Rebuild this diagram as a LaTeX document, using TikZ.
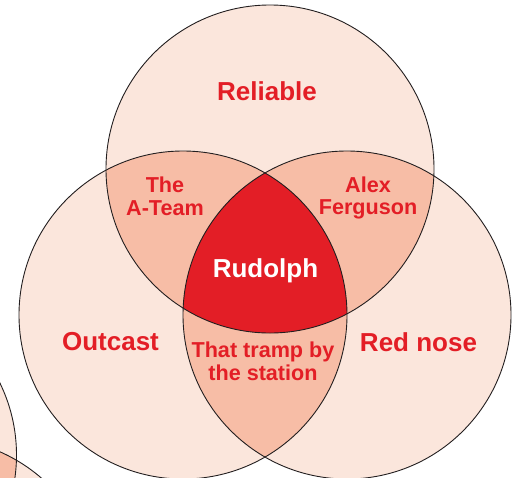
\documentclass[tikz,border=0pt]{standalone}
\usepackage{fontspec}
\setmainfont{Liberation Sans}
\definecolor{lightp}{HTML}{FBE6DC}
\definecolor{midp}{HTML}{F7BDA6}
\definecolor{vred}{HTML}{E31E26}
\definecolor{ink}{HTML}{231F20}
\begin{document}
\begin{tikzpicture}[x=1pt,y=-1pt,
  ring/.style={draw=ink,line width=0.9pt},
  big/.style={font=\fontsize{26}{27}\selectfont\bfseries,text=vred,inner sep=0pt},
  small/.style={font=\fontsize{21.6}{22.8}\selectfont\bfseries,text=vred,align=center,inner sep=0pt}]
\useasboundingbox (0,0) rectangle (519,477);
\def\rr{164pt}
\coordinate (T) at (270,169);
\coordinate (L) at (183,315);
\coordinate (R) at (347,315);
\coordinate (A) at (-147.5,455);
\coordinate (B) at (-66,602);
% fragment circles at bottom left
\fill[lightp] (A) circle[radius=\rr];
\fill[lightp] (B) circle[radius=\rr];
\begin{scope}
  \clip (A) circle[radius=\rr];
  \fill[midp] (B) circle[radius=\rr];
\end{scope}
\draw[ring] (A) circle[radius=\rr];
\draw[ring] (B) circle[radius=\rr];
% main circles
\fill[lightp] (T) circle[radius=\rr];
\fill[lightp] (L) circle[radius=\rr];
\fill[lightp] (R) circle[radius=\rr];
\begin{scope}
  \clip (T) circle[radius=\rr];
  \fill[midp] (L) circle[radius=\rr];
  \fill[midp] (R) circle[radius=\rr];
\end{scope}
\begin{scope}
  \clip (L) circle[radius=\rr];
  \fill[midp] (R) circle[radius=\rr];
\end{scope}
\begin{scope}
  \clip (T) circle[radius=\rr];
  \clip (L) circle[radius=\rr];
  \fill[vred] (R) circle[radius=\rr];
\end{scope}
\draw[ring] (T) circle[radius=\rr];
\draw[ring] (L) circle[radius=\rr];
\draw[ring] (R) circle[radius=\rr];
% labels
\node[big,anchor=base] (reliable) at (267,100) {Reliable};
\node[big,anchor=base] (outcast) at (110.5,350) {Outcast};
\node[big,anchor=base] (rednose) at (418.5,351) {Red nose};
\node[big,anchor=base,text=white] (rudolph) at (265.5,277) {Rudolph};
\node[small] (ateam) at (165,196) {The\\A-Team};
\node[small] (alex) at (368,198) {Alex\\Ferguson};
\node[small] (tramp) at (263,361.4) {That tramp by\\the station};
\end{tikzpicture}
\end{document}
